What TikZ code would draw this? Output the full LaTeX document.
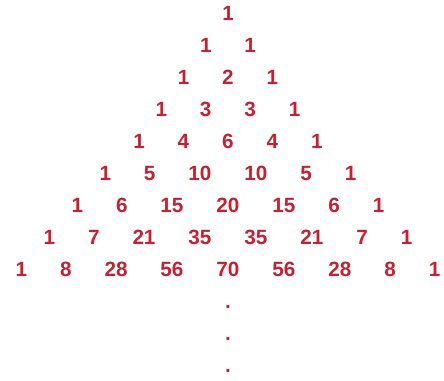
\documentclass[tikz,border=0pt]{standalone}
\usepackage{fontspec}
\setmainfont{Liberation Sans}
\definecolor{pascalred}{RGB}{200,32,48}
\newcommand{\gap}{\hspace{24.75pt}}

\begin{document}
\begin{tikzpicture}[
    x=0.75pt, y=-0.75pt,
    node distance=24pt,
    every node/.style={text=pascalred, inner sep=0pt,
      font=\fontsize{15.5}{18}\selectfont\bfseries,
      text height=11.1pt, text depth=0pt}
  ]
  \useasboundingbox (0,0) rectangle (444,381);
  \node (r0) at (228,13) {1};
  \node (r1) [below of=r0] {1\gap 1};
  \node (r2) [below of=r1] {1\gap 2\gap 1};
  \node (r3) [below of=r2] {1\gap 3\gap 3\gap 1};
  \node (r4) [below of=r3] {1\gap 4\gap 6\gap 4\gap 1};
  \node (r5) [below of=r4] {1\gap 5\gap 10\gap 10\gap 5\gap 1};
  \node (r6) [below of=r5] {1\gap 6\gap 15\gap 20\gap 15\gap 6\gap 1};
  \node (r7) [below of=r6] {1\gap 7\gap 21\gap 35\gap 35\gap 21\gap 7\gap 1};
  \node (r8) [below of=r7] {1\gap 8\gap 28\gap 56\gap 70\gap 56\gap 28\gap 8\gap 1};
  % continued downward
  \node (d1) [below of=r8] {.};
  \node (d2) [below of=d1] {.};
  \node (d3) [below of=d2] {.};
\end{tikzpicture}
\end{document}
